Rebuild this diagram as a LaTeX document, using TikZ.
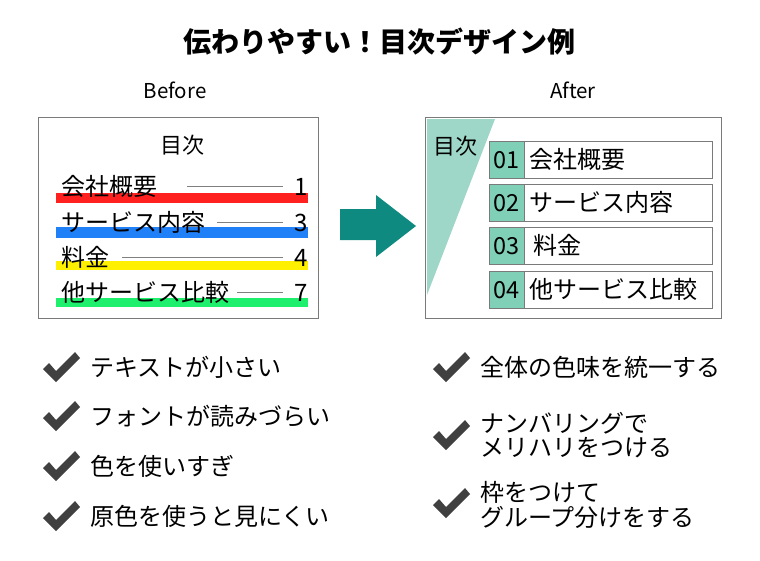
\documentclass[tikz,border=0pt]{standalone}
\usepackage{fontspec}
\setmainfont{Noto Sans CJK JP}
\usetikzlibrary{positioning}
\definecolor{barred}{HTML}{FF2020}
\definecolor{barblue}{HTML}{2080F8}
\definecolor{baryellow}{HTML}{FFF000}
\definecolor{bargreen}{HTML}{1EF06E}
\definecolor{arrowteal}{HTML}{0E8A80}
\definecolor{trifill}{HTML}{9ED7C7}
\definecolor{cellfill}{HTML}{80CFB7}
\definecolor{framegray}{HTML}{7A7A7A}
\definecolor{tickgray}{HTML}{404040}

\begin{document}
\begin{tikzpicture}[x=1pt,y=-1pt]
        % Define styles
        \tikzset{
            jtext/.style={inner sep=0pt, text height=21pt, text depth=3pt, font=\fontsize{24}{28}\selectfont},
            headtext/.style={inner sep=0pt, anchor=base, font=\fontsize{20.5}{24}\selectfont},
            frame/.style={draw=framegray, line width=0.9pt},
            leader/.style={draw=gray, line width=0.7pt},
            rowbox/.style={draw=framegray, line width=0.9pt, minimum width=223pt, minimum height=37pt, inner sep=0pt, anchor=north west},
            numcell/.style={fill=cellfill, draw=framegray, line width=0.9pt, minimum width=35pt, minimum height=37pt, inner sep=0pt, anchor=north west, text height=20pt, text depth=3pt, font=\fontsize{23.5}{27}\selectfont},
            tick/.pic={\fill[tickgray] (-18,2) -- (-12,-4) -- (-5,4) -- (14,-15) -- (19,-9) -- (-5,15) -- cycle;}
        }
        \useasboundingbox (0,0) rectangle (760,560);
        % Title and headings
        \node[jtext, font=\bfseries\fontsize{28}{31}\selectfont, text height=24.5pt, text depth=3.5pt] (title) at (379,42) {伝わりやすい！目次デザイン例};
        \node[headtext] (before) at (175,98) {Before};
        \node[headtext] (after) at (573,98) {After};
        % Before: table of contents
        \draw[frame] (38,117) rectangle (318,318);
        \node[jtext, font=\fontsize{22}{26}\selectfont] (btitle) at (182,144) {目次};
        \fill[barred] (56,193) rectangle (308,203);
        \fill[barblue] (56,227) rectangle (308,238);
        \fill[baryellow] (56,261) rectangle (308,270);
        \fill[bargreen] (56,298) rectangle (308,307);
        \node[jtext, anchor=west] (toc1) at (61,186) {会社概要};
        \node[jtext, anchor=west] (toc2) at (61,222) {サービス内容};
        \node[jtext, anchor=west] (toc3) at (61,257) {料金};
        \node[jtext, anchor=west] (toc4) at (61,292) {他サービス比較};
        \node[jtext, anchor=east] (num1) at (308,186) {1};
        \node[jtext, anchor=east] (num2) at (308,222) {3};
        \node[jtext, anchor=east] (num3) at (308,257) {4};
        \node[jtext, anchor=east] (num4) at (308,292) {7};
        \draw[leader] (187,0 |- toc1) -- (283,0 |- toc1);
        \draw[leader] (217,0 |- toc2) -- (283,0 |- toc2);
        \draw[leader] (122,0 |- toc3) -- (283,0 |- toc3);
        \draw[leader] (237,0 |- toc4) -- (283,0 |- toc4);
        % Arrow between the two
        \fill[arrowteal] (340,209) -- (376,209) -- (376,195) -- (416,226) -- (376,257) -- (376,240) -- (340,240) -- cycle;
        % After: table of contents
        \draw[frame] (425,117) rectangle (721,318);
        \fill[trifill] (427,119) -- (495,119) -- (427,295) -- cycle;
        \node[jtext, font=\fontsize{22}{26}\selectfont] (atitle) at (455,145) {目次};
        \node[rowbox] (row1) at (489,141) {};
        \node[rowbox] (row2) at (489,184) {};
        \node[rowbox] (row3) at (489,227) {};
        \node[rowbox] (row4) at (489,271) {};
        \node[numcell] (cell1) at (row1.north west) {01};
        \node[numcell] (cell2) at (row2.north west) {02};
        \node[numcell] (cell3) at (row3.north west) {03};
        \node[numcell] (cell4) at (row4.north west) {04};
        \node[jtext, right=4pt of cell1] (item1) {会社概要};
        \node[jtext, right=4pt of cell2] (item2) {サービス内容};
        \node[jtext, right=8pt of cell3] (item3) {料金};
        \node[jtext, right=4pt of cell4] (item4) {他サービス比較};
        % Before: problems
        \pic at (61,367) {tick};
        \pic at (61,416) {tick};
        \pic at (61,466) {tick};
        \pic at (61,516) {tick};
        \node[jtext, anchor=west] (bad1) at (90,367) {テキストが小さい};
        \node[jtext, anchor=west] (bad2) at (90,416) {フォントが読みづらい};
        \node[jtext, anchor=west] (bad3) at (90,466) {色を使いすぎ};
        \node[jtext, anchor=west] (bad4) at (90,516) {原色を使うと見にくい};
        % After: fixes
        \pic at (451,367) {tick};
        \pic at (451,435) {tick};
        \pic at (451,503) {tick};
        \node[jtext, anchor=west] (good1) at (480,367) {全体の色味を統一する};
        \node[jtext, anchor=west] (good2a) at (480,423) {ナンバリングで};
        \node[jtext, anchor=west] (good2b) at (480,447) {メリハリをつける};
        \node[jtext, anchor=west] (good3a) at (480,492) {枠をつけて};
        \node[jtext, anchor=west] (good3b) at (480,517) {グループ分けをする};
    \end{tikzpicture}
\end{document}
